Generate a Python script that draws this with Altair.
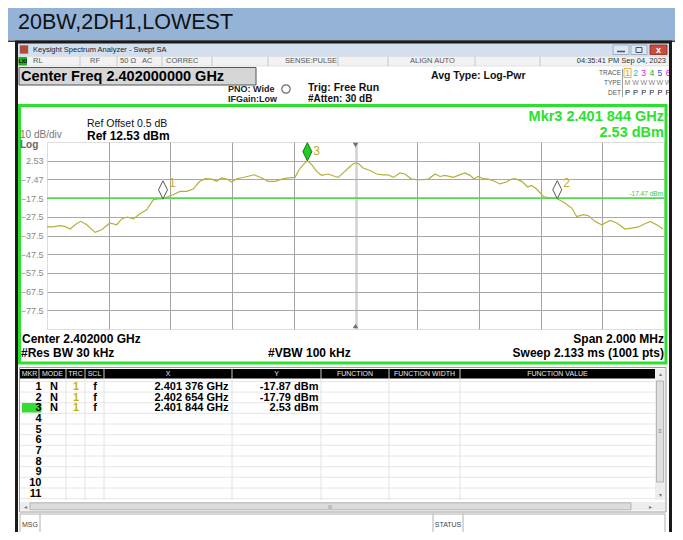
import altair as alt
import pandas as pd

# ---------------- data ----------------
page_title = "20BW,2DH1,LOWEST"
start_mhz = 2401.0
stop_mhz = 2403.0
center_mhz = 2402.0
ref_level = 12.53
display_line = -17.47

trace_offset_khz = [0, 20, 42, 58, 75, 91, 109, 129, 156, 177, 204, 226, 242, 260, 280, 301, 323, 345, 361, 376,
                    393, 409, 431, 453, 474, 480, 490, 496, 507, 512, 534, 550, 566, 583, 599, 615, 642, 672, 696,
                    717, 739, 761, 782, 804, 817, 831, 844, 858, 874, 890, 912, 934, 944, 960, 977, 993, 1000, 1009,
                    1025, 1047, 1069, 1090, 1106, 1123, 1144, 1160, 1182, 1198, 1220, 1236, 1258, 1274, 1290, 1317,
                    1333, 1355, 1371, 1384, 1398, 1414, 1430, 1447, 1468, 1490, 1501, 1517, 1539, 1558, 1571, 1587,
                    1609, 1630, 1654, 1679, 1701, 1717, 1739, 1755, 1776, 1798, 1825, 1847, 1874, 1895, 1917, 1938,
                    1955, 1976, 1997]
trace_dbm = [-32.9, -32.9, -32.2, -32.6, -34.0, -31.7, -29.9, -31.7, -35.8, -34.4, -30.8, -31.7, -28.6, -27.6, -28.6,
             -25.8, -23.7, -18.3, -17.9, -17.9, -16.6, -15.7, -13.9, -13.9, -12.6, -11.5, -9.4, -8.5, -7.6, -7.1,
             -7.3, -8.5, -6.7, -7.3, -8.9, -7.1, -6.2, -5.0, -6.7, -8.5, -8.5, -7.3, -6.7, -6.4, -2.3, 0.4, 2.53,
             0.4, -3.2, -5.3, -4.6, -5.9, -6.4, -4.0, -1.4, 0.9, 1.3, 1.0, -1.4, -2.7, -4.6, -5.0, -5.0, -6.4, -4.0,
             -4.6, -7.3, -7.6, -7.6, -7.3, -4.6, -5.9, -5.3, -6.4, -5.3, -4.0, -5.3, -7.1, -5.9, -7.1, -7.3, -8.2,
             -9.9, -8.9, -7.6, -7.1, -8.5, -11.5, -10.7, -12.6, -16.6, -17.4, -17.8, -20.1, -22.8, -27.3, -26.3,
             -26.9, -29.9, -31.7, -29.4, -30.8, -34.0, -33.5, -32.9, -31.2, -29.9, -31.7, -34.0]

marker_ids = ["1", "2", "3"]
marker_ghz = [2.401376, 2.402654, 2.401844]
marker_dbm = [-17.87, -17.79, 2.53]

status_items = ["RL", "RF", "50 Ω", "AC", "CORREC", "SENSE:PULSE", "ALIGN AUTO"]
timestamp = "04:35:41 PM Sep 04, 2023"
table_headers = ["MKR", "MODE", "TRC", "SCL", "X", "Y", "FUNCTION", "FUNCTION WIDTH", "FUNCTION VALUE"]
table_rows = [str(i) for i in range(1, 12)]

# ---------------- layout helpers (picture pixel coordinates) ----------------
FONT = "Liberation Sans"
OX, OY = 47, 142
W, H = 617, 187
GREEN = "#2ee02e"
TRACE = "#b6b03a"
one = pd.DataFrame({"k": [0]})
layers_back = []
layers_front = []


def txt(s, X, Y, size=10, color="#000000", bold=False, align="left", target=None, baseline="middle", font=FONT):
    (layers_front if target is None else target).append(
        alt.Chart(one).mark_text(text=s, align=align, baseline=baseline, fontSize=size, color=color,
                                 fontWeight="bold" if bold else "normal", font=font)
        .encode(x=alt.value(X - OX), y=alt.value(Y - OY)))


def rect(X1, Y1, X2, Y2, fill="#ffffff", stroke="#ffffff", sw=0, fo=1.0, target=None):
    (layers_back if target is None else target).append(
        alt.Chart(one).mark_rect(fill=fill, stroke=stroke, strokeWidth=sw, fillOpacity=fo)
        .encode(x=alt.value(X1 - OX), x2=alt.value(X2 - OX), y=alt.value(Y1 - OY), y2=alt.value(Y2 - OY)))


def line(X1, Y1, X2, Y2, color="#999999", sw=1, target=None):
    (layers_back if target is None else target).append(
        alt.Chart(one).mark_rule(color=color, strokeWidth=sw)
        .encode(x=alt.value(X1 - OX), x2=alt.value(X2 - OX), y=alt.value(Y1 - OY), y2=alt.value(Y2 - OY)))


# ---------------- chrome ----------------
rect(0, 0, 683, 40.5, fill="#95b3d7")
line(0, 41.2, 683, 41.2, color="#3a3a3a", sw=1.5)
txt(page_title, 18, 23, size=21.5, color="#111111")

# window title bar
rect(18, 43, 669, 56, fill="#d3dfef")
rect(20, 45.5, 28, 53.5, fill="#b44a3a", stroke="#777777", sw=0.5)
txt("Keysight Spectrum Analyzer - Swept SA", 33, 50, size=7.5, color="#222222")
rect(613, 45, 629, 54.5, fill="#dde7f5", stroke="#8ea3bf", sw=0.8)
rect(631, 45, 647, 54.5, fill="#dde7f5", stroke="#8ea3bf", sw=0.8)
rect(650, 45, 667, 54.5, fill="#c94c3c", stroke="#8a2a20", sw=0.8)
line(617, 51.5, 625, 51.5, color="#445566", sw=1.5)
rect(636, 47.5, 642, 52.5, fill="#dde7f5", stroke="#445566", sw=1)
txt("x", 658.5, 49.5, size=9, color="#ffffff", bold=True, align="center")

# status row
rect(18, 56.5, 669, 66, fill="#f2f2f2", stroke="#c8c8c8", sw=0.5)
for sx in [80, 117, 162, 212, 268, 338, 388, 475, 540]:
    line(sx, 56.5, sx, 66, color="#bdbdbd", sw=0.8)
rect(18.5, 57, 27, 65.5, fill="#1fae1f")
txt("LXI", 22.7, 61.3, size=5.5, color="#000000", bold=True, align="center")
for s, sx in zip(status_items, [33, 90, 120, 142, 166, 285, 410]):
    txt(s, sx, 61.3, size=7.5, color="#555555")
txt(timestamp, 666, 61.3, size=7.5, color="#333333", align="right")

# settings row
rect(19, 67.5, 256, 85, fill="#d6d6d6", stroke="#555555", sw=1)
txt("Center Freq 2.402000000 GHz", 21, 76.5, size=14.5, bold=True)
txt("PNO: Wide", 228, 88.5, size=9, bold=True, color="#222222")
txt("IFGain:Low", 228, 98.5, size=9, bold=True, color="#222222")
layers_front.append(alt.Chart(one).mark_point(shape="circle", size=70, filled=False, color="#333333", strokeWidth=1.2)
                    .encode(x=alt.value(286 - OX), y=alt.value(89 - OY)))
txt("Trig: Free Run", 308, 87.5, size=10.5, bold=True, color="#111111")
txt("#Atten: 30 dB", 308, 98.5, size=10, bold=True, color="#111111")
txt("Avg Type: Log-Pwr", 431, 75.5, size=10.5, bold=True, color="#111111")
txt("TRACE", 621, 73, size=6.5, color="#555555", align="right")
txt("TYPE", 621, 83, size=6.5, color="#555555", align="right")
txt("DET", 621, 93, size=6.5, color="#555555", align="right")
line(622.5, 69, 622.5, 97, color="#888888", sw=0.8)
rect(624, 68.5, 631, 77.5, fill="#ffffff", stroke="#e0a020", sw=0.8)
for i, c in enumerate(["#e0a000", "#10b8d8", "#d020c8", "#20b020", "#3050e0", "#d020c8"]):
    txt(str(i + 1), 627.5 + 8.1 * i, 73, size=8.5, color=c, align="center")
    txt("M" if i == 0 else "W", 627.5 + 8.1 * i, 83, size=7, color="#888888", align="center")
    txt("P", 627.5 + 8.1 * i, 93, size=7.5, color="#222222", align="center")

# graph area text
rect(19.5, 105.5, 666, 363, fill="#ffffff", stroke=GREEN, sw=3, fo=0)
txt("Ref Offset 0.5 dB", 87, 123.5, size=10.5, color="#111111")
txt("Ref 12.53 dBm", 87, 135.5, size=12, bold=True)
txt("10 dB/div", 20, 135, size=10, color="#777777")
txt("Log", 20, 145, size=10, bold=True, color="#666666")
txt("Mkr3 2.401 844 GHz", 664, 117, size=14.5, bold=True, color=GREEN, align="right")
txt("2.53 dBm", 664, 133, size=14.5, bold=True, color=GREEN, align="right")
txt("-17.47 dBm", 663, 193.5, size=6.5, color="#33cc33", align="right")
txt("Center 2.402000 GHz", 22, 339, size=12, bold=True)
txt("#Res BW 30 kHz", 21, 352.5, size=12, bold=True)
txt("#VBW 100 kHz", 268, 352.5, size=12, bold=True)
txt("Span 2.000 MHz", 664, 339, size=12, bold=True, align="right")
txt("Sweep  2.133 ms (1001 pts)", 664, 352.5, size=12, bold=True, align="right")

# marker table
rect(19.5, 367.5, 666, 512, fill="#ffffff", stroke="#9a9a9a", sw=1)
rect(20, 369, 655, 378.5, fill="#000000")
col_sep = [39, 66, 85, 104, 232, 321, 389, 460]
for cx in col_sep:
    line(cx, 369, cx, 378.5, color="#c8c8c8", sw=1)
    line(cx, 378.5, cx, 500, color="#e2e2e2", sw=1)
for h, hx in zip(table_headers, [29.5, 52.5, 75.5, 94.5, 168, 276.5, 355, 424.5, 557.5]):
    txt(h, hx, 374, size=7, color="#e8e8e8", align="center")
for k in range(12):
    line(20, 381.4 + 10.66 * k, 655, 381.4 + 10.66 * k, color="#e6e6e6", sw=1)
rect(22, 403, 41.5, 412.5, fill="#33dd33")
for k, r in enumerate(table_rows):
    txt(r, 41.5, 387 + 10.66 * k, size=11, bold=True, align="right")
for k, (mid, g, d) in enumerate(zip(marker_ids, marker_ghz, marker_dbm)):
    yy = 387 + 10.66 * k
    gs = f"{g:.6f}"
    txt("N", 54, yy, size=11, bold=True, align="center")
    txt("1", 76, yy, size=11, bold=True, color="#c8b400", align="center")
    txt("f", 95, yy, size=11, bold=True, align="center")
    txt(f"{gs[:5]} {gs[5:]} GHz", 228.5, yy, size=11, bold=True, align="right")
    txt(f"{d:.2f} dBm", 318.5, yy, size=11, bold=True, align="right")
# scrollbars
rect(655, 369, 665, 500, fill="#ededed")
rect(656.5, 381, 663.5, 482, fill="#dfdfdf", stroke="#a8a8a8", sw=0.8)
txt("▴", 660, 374, size=6, color="#777777", align="center")
txt("▾", 660, 495, size=6, color="#777777", align="center")
txt("≡", 660, 431, size=6, color="#777777", align="center")
rect(20, 502, 665, 510.5, fill="#ededed")
rect(30, 502.8, 631, 509.8, fill="#dcdcdc", stroke="#a8a8a8", sw=0.8)
txt("◂", 25, 506.5, size=6, color="#777777", align="center")
txt("▸", 650, 506.5, size=6, color="#777777", align="center")
txt("III", 330, 506.5, size=5, color="#888888", align="center")
# message bar
rect(20, 514, 665, 533, fill="#ffffff", stroke="#b0b0b0", sw=1)
line(40, 514, 40, 533, color="#b0b0b0", sw=1)
line(433, 514, 433, 533, color="#b0b0b0", sw=1)
line(463, 514, 463, 533, color="#b0b0b0", sw=1)
txt("MSG", 22, 525, size=7, color="#444444")
txt("STATUS", 448, 525, size=7, color="#444444", align="center")
# window frame
rect(16.5, 42, 670.5, 536.5, fill="#ffffff", stroke="#1a1a1a", sw=3, fo=0, target=layers_front)

# ---------------- spectrum plot ----------------
trace_df = pd.DataFrame({"freq": [start_mhz + k / 1000 for k in trace_offset_khz], "dbm": trace_dbm})
x_grid = [round(start_mhz + 0.2 * i, 1) for i in range(1, 10)]
y_grid = [round(ref_level - 10 * i, 2) for i in range(1, 10)]

xs = alt.Scale(domain=[start_mhz, stop_mhz], nice=False, zero=False)
ys = alt.Scale(domain=[ref_level - 100, ref_level], nice=False, zero=False)

trace = alt.Chart(trace_df).mark_line(color=TRACE, strokeWidth=1.2, clip=True).encode(
    x=alt.X("freq:Q", scale=xs, axis=alt.Axis(
        values=x_grid, tickCount=len(x_grid) + 2, grid=True, labels=False, ticks=False, domain=False, title=None,
        gridColor={"condition": {"test": "datum.value === 2402", "value": "#d2d2d2"}, "value": "#a2a2a2"},
        gridWidth={"condition": {"test": "datum.value === 2402", "value": 2.5}, "value": 1})),
    y=alt.Y("dbm:Q", scale=ys, axis=alt.Axis(
        values=y_grid, tickCount=len(y_grid) + 2, grid=True, ticks=False, domain=False, title=None,
        gridColor="#a8a8a8",
        labelExpr="datum.value > -10 ? format(datum.value, '.2f') : format(datum.value, '.1f')",
        labelOverlap=False, labelColor="#888888", labelFontSize=9, labelFont=FONT, labelPadding=4)),
)

dl = alt.Chart(pd.DataFrame({"y": [display_line]})).mark_rule(color="#55d655", strokeWidth=1.6).encode(
    y=alt.Y("y:Q", scale=ys))

mk_df = pd.DataFrame({"id": marker_ids, "freq": [g * 1000 for g in marker_ghz], "dbm": marker_dbm})
DIAMOND = "M0,-1L0.5,0L0,1L-0.5,0Z"
mk_other = alt.Chart(mk_df).transform_filter("datum.id != '3'").mark_point(
    shape=DIAMOND, size=324, filled=True, fill="#ffffff", stroke="#555555", strokeWidth=1, opacity=1, yOffset=-9
).encode(x=alt.X("freq:Q", scale=xs), y=alt.Y("dbm:Q", scale=ys))
mk_active = alt.Chart(mk_df).transform_filter("datum.id == '3'").mark_point(
    shape=DIAMOND, size=324, filled=True, fill="#22cc22", stroke="#127a12", strokeWidth=1, opacity=1, yOffset=-9
).encode(x=alt.X("freq:Q", scale=xs), y=alt.Y("dbm:Q", scale=ys))
mk_lab = alt.Chart(mk_df).transform_filter("datum.id != '3'").mark_text(
    align="left", dx=6, dy=-16, fontSize=12, color="#c0aa30", font=FONT
).encode(x=alt.X("freq:Q", scale=xs), y=alt.Y("dbm:Q", scale=ys), text="id:N")
mk_lab3 = alt.Chart(mk_df).transform_filter("datum.id == '3'").mark_text(
    align="left", dx=6, dy=-10, fontSize=12, color="#c0aa30", font=FONT
).encode(x=alt.X("freq:Q", scale=xs), y=alt.Y("dbm:Q", scale=ys), text="id:N")

cf = pd.DataFrame({"freq": [center_mhz]})
tri_top = alt.Chart(cf).mark_point(shape="triangle-down", size=30, filled=True, color="#707070", opacity=1).encode(
    x=alt.X("freq:Q", scale=xs), y=alt.value(3))
tri_bot = alt.Chart(cf).mark_point(shape="triangle-up", size=30, filled=True, color="#707070", opacity=1).encode(
    x=alt.X("freq:Q", scale=xs), y=alt.value(H - 3))

chart = alt.layer(*layers_back, trace, dl, tri_top, tri_bot, mk_other, mk_active, mk_lab, mk_lab3,
                  *layers_front).properties(
    width=W, height=H,
    autosize=alt.AutoSizeParams(type="none"),
    padding={"left": 39, "top": 134, "right": 11, "bottom": 203},
).configure_view(stroke="#8a8a8a", strokeWidth=2).configure(background="#ffffff")

chart.save("out.html", embed_options={"renderer": "svg", "actions": False})
